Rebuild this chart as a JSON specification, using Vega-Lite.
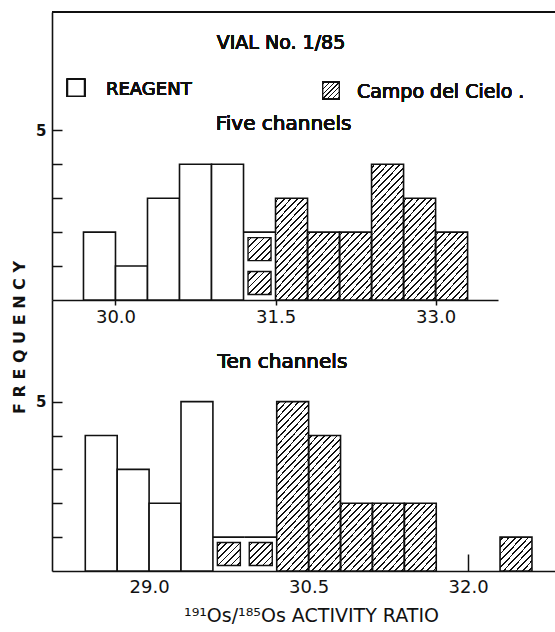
{
  "$schema": "https://vega.github.io/schema/vega-lite/v6.json",
  "autosize": {"type": "pad"},
  "padding": {"left": 10, "top": 11, "right": 0, "bottom": 5},
  "background": "white",
  "bounds": "flush",
  "spacing": 0,
  "datasets": {
    "five_channels": [
      {"bin_start": 29.7, "bin_end": 30.0, "mid": 29.85, "sample": "Reagent", "frequency": 2},
      {"bin_start": 30.0, "bin_end": 30.3, "mid": 30.15, "sample": "Reagent", "frequency": 1},
      {"bin_start": 30.3, "bin_end": 30.6, "mid": 30.45, "sample": "Reagent", "frequency": 3},
      {"bin_start": 30.6, "bin_end": 30.9, "mid": 30.75, "sample": "Reagent", "frequency": 4},
      {"bin_start": 30.9, "bin_end": 31.2, "mid": 31.05, "sample": "Reagent", "frequency": 4},
      {"bin_start": 31.2, "bin_end": 31.5, "mid": 31.35, "sample": "Mixed", "frequency": 2},
      {"bin_start": 31.5, "bin_end": 31.8, "mid": 31.65, "sample": "Campo del Cielo", "frequency": 3},
      {"bin_start": 31.8, "bin_end": 32.1, "mid": 31.95, "sample": "Campo del Cielo", "frequency": 2},
      {"bin_start": 32.1, "bin_end": 32.4, "mid": 32.25, "sample": "Campo del Cielo", "frequency": 2},
      {"bin_start": 32.4, "bin_end": 32.7, "mid": 32.55, "sample": "Campo del Cielo", "frequency": 4},
      {"bin_start": 32.7, "bin_end": 33.0, "mid": 32.85, "sample": "Campo del Cielo", "frequency": 3},
      {"bin_start": 33.0, "bin_end": 33.3, "mid": 33.15, "sample": "Campo del Cielo", "frequency": 2}
    ],
    "ten_channels": [
      {"bin_start": 28.4, "bin_end": 28.7, "mid": 28.55, "sample": "Reagent", "frequency": 4},
      {"bin_start": 28.7, "bin_end": 29.0, "mid": 28.85, "sample": "Reagent", "frequency": 3},
      {"bin_start": 29.0, "bin_end": 29.3, "mid": 29.15, "sample": "Reagent", "frequency": 2},
      {"bin_start": 29.3, "bin_end": 29.6, "mid": 29.45, "sample": "Reagent", "frequency": 5},
      {"bin_start": 29.6, "bin_end": 29.9, "mid": 29.75, "sample": "Mixed", "frequency": 1},
      {"bin_start": 29.9, "bin_end": 30.2, "mid": 30.05, "sample": "Mixed", "frequency": 1},
      {"bin_start": 30.2, "bin_end": 30.5, "mid": 30.35, "sample": "Campo del Cielo", "frequency": 5},
      {"bin_start": 30.5, "bin_end": 30.8, "mid": 30.65, "sample": "Campo del Cielo", "frequency": 4},
      {"bin_start": 30.8, "bin_end": 31.1, "mid": 30.95, "sample": "Campo del Cielo", "frequency": 2},
      {"bin_start": 31.1, "bin_end": 31.4, "mid": 31.25, "sample": "Campo del Cielo", "frequency": 2},
      {"bin_start": 31.4, "bin_end": 31.7, "mid": 31.55, "sample": "Campo del Cielo", "frequency": 2},
      {"bin_start": 32.3, "bin_end": 32.6, "mid": 32.45, "sample": "Campo del Cielo", "frequency": 1}
    ]
  },
  "vconcat": [
    {
      "width": 446,
      "height": 288,
      "data": {"name": "five_channels"},
      "layer": [
        {
          "transform": [{"filter": "datum.sample == 'Reagent'"}],
          "mark": {"type": "bar", "fill": "white", "stroke": "#111", "strokeWidth": 1.6},
          "encoding": {
            "x": {"field": "bin_start", "type": "quantitative", "scale": {"domain": [29.405, 33.585], "nice": false, "zero": false},
                  "axis": {"values": [30, 31.5, 33], "format": ".1f", "tickSize": 5, "labelPadding": 3, "labelFontSize": 18, "title": null}},
            "x2": {"field": "bin_end"},
            "y": {"field": "frequency", "type": "quantitative", "scale": {"domain": [0, 8.486], "nice": false},
                  "axis": {"values": [1, 2, 3, 4, 5], "labelExpr": "datum.value == 5 ? '5' : ''", "tickSize": -10, "labelPadding": 16, "labelFontSize": 15, "labelFontWeight": "bold", "title": null}},
            "y2": {"datum": 0}
          }
        },
        {"transform": [{"filter": "datum.sample == 'Campo del Cielo' && datum.frequency >= 1"}],
         "mark": {"type": "bar", "strokeWidth": 0, "fill": {"gradient": "linear", "x1": 0, "y1": 0, "x2": 1, "y2": 1, "stops": [{"offset": 0, "color": "#fff"}, {"offset": 0.036, "color": "#fff"}, {"offset": 0.036, "color": "#111"}, {"offset": 0.064, "color": "#111"}, {"offset": 0.064, "color": "#fff"}, {"offset": 0.136, "color": "#fff"}, {"offset": 0.136, "color": "#111"}, {"offset": 0.164, "color": "#111"}, {"offset": 0.164, "color": "#fff"}, {"offset": 0.236, "color": "#fff"}, {"offset": 0.236, "color": "#111"}, {"offset": 0.264, "color": "#111"}, {"offset": 0.264, "color": "#fff"}, {"offset": 0.336, "color": "#fff"}, {"offset": 0.336, "color": "#111"}, {"offset": 0.364, "color": "#111"}, {"offset": 0.364, "color": "#fff"}, {"offset": 0.436, "color": "#fff"}, {"offset": 0.436, "color": "#111"}, {"offset": 0.464, "color": "#111"}, {"offset": 0.464, "color": "#fff"}, {"offset": 0.536, "color": "#fff"}, {"offset": 0.536, "color": "#111"}, {"offset": 0.564, "color": "#111"}, {"offset": 0.564, "color": "#fff"}, {"offset": 0.636, "color": "#fff"}, {"offset": 0.636, "color": "#111"}, {"offset": 0.664, "color": "#111"}, {"offset": 0.664, "color": "#fff"}, {"offset": 0.736, "color": "#fff"}, {"offset": 0.736, "color": "#111"}, {"offset": 0.764, "color": "#111"}, {"offset": 0.764, "color": "#fff"}, {"offset": 0.836, "color": "#fff"}, {"offset": 0.836, "color": "#111"}, {"offset": 0.864, "color": "#111"}, {"offset": 0.864, "color": "#fff"}, {"offset": 0.936, "color": "#fff"}, {"offset": 0.936, "color": "#111"}, {"offset": 0.964, "color": "#111"}, {"offset": 0.964, "color": "#fff"}, {"offset": 1, "color": "#fff"}]}},
         "encoding": {"x": {"field": "bin_start", "type": "quantitative"}, "x2": {"field": "bin_end"}, "y": {"datum": 0}, "y2": {"datum": 1}}},
        {"transform": [{"filter": "datum.sample == 'Campo del Cielo' && datum.frequency >= 2"}],
         "mark": {"type": "bar", "strokeWidth": 0, "fill": {"gradient": "linear", "x1": 0, "y1": 0, "x2": 1, "y2": 1, "stops": [{"offset": 0, "color": "#fff"}, {"offset": 0.036, "color": "#fff"}, {"offset": 0.036, "color": "#111"}, {"offset": 0.064, "color": "#111"}, {"offset": 0.064, "color": "#fff"}, {"offset": 0.136, "color": "#fff"}, {"offset": 0.136, "color": "#111"}, {"offset": 0.164, "color": "#111"}, {"offset": 0.164, "color": "#fff"}, {"offset": 0.236, "color": "#fff"}, {"offset": 0.236, "color": "#111"}, {"offset": 0.264, "color": "#111"}, {"offset": 0.264, "color": "#fff"}, {"offset": 0.336, "color": "#fff"}, {"offset": 0.336, "color": "#111"}, {"offset": 0.364, "color": "#111"}, {"offset": 0.364, "color": "#fff"}, {"offset": 0.436, "color": "#fff"}, {"offset": 0.436, "color": "#111"}, {"offset": 0.464, "color": "#111"}, {"offset": 0.464, "color": "#fff"}, {"offset": 0.536, "color": "#fff"}, {"offset": 0.536, "color": "#111"}, {"offset": 0.564, "color": "#111"}, {"offset": 0.564, "color": "#fff"}, {"offset": 0.636, "color": "#fff"}, {"offset": 0.636, "color": "#111"}, {"offset": 0.664, "color": "#111"}, {"offset": 0.664, "color": "#fff"}, {"offset": 0.736, "color": "#fff"}, {"offset": 0.736, "color": "#111"}, {"offset": 0.764, "color": "#111"}, {"offset": 0.764, "color": "#fff"}, {"offset": 0.836, "color": "#fff"}, {"offset": 0.836, "color": "#111"}, {"offset": 0.864, "color": "#111"}, {"offset": 0.864, "color": "#fff"}, {"offset": 0.936, "color": "#fff"}, {"offset": 0.936, "color": "#111"}, {"offset": 0.964, "color": "#111"}, {"offset": 0.964, "color": "#fff"}, {"offset": 1, "color": "#fff"}]}},
         "encoding": {"x": {"field": "bin_start", "type": "quantitative"}, "x2": {"field": "bin_end"}, "y": {"datum": 1}, "y2": {"datum": 2}}},
        {"transform": [{"filter": "datum.sample == 'Campo del Cielo' && datum.frequency >= 3"}],
         "mark": {"type": "bar", "strokeWidth": 0, "fill": {"gradient": "linear", "x1": 0, "y1": 0, "x2": 1, "y2": 1, "stops": [{"offset": 0, "color": "#fff"}, {"offset": 0.036, "color": "#fff"}, {"offset": 0.036, "color": "#111"}, {"offset": 0.064, "color": "#111"}, {"offset": 0.064, "color": "#fff"}, {"offset": 0.136, "color": "#fff"}, {"offset": 0.136, "color": "#111"}, {"offset": 0.164, "color": "#111"}, {"offset": 0.164, "color": "#fff"}, {"offset": 0.236, "color": "#fff"}, {"offset": 0.236, "color": "#111"}, {"offset": 0.264, "color": "#111"}, {"offset": 0.264, "color": "#fff"}, {"offset": 0.336, "color": "#fff"}, {"offset": 0.336, "color": "#111"}, {"offset": 0.364, "color": "#111"}, {"offset": 0.364, "color": "#fff"}, {"offset": 0.436, "color": "#fff"}, {"offset": 0.436, "color": "#111"}, {"offset": 0.464, "color": "#111"}, {"offset": 0.464, "color": "#fff"}, {"offset": 0.536, "color": "#fff"}, {"offset": 0.536, "color": "#111"}, {"offset": 0.564, "color": "#111"}, {"offset": 0.564, "color": "#fff"}, {"offset": 0.636, "color": "#fff"}, {"offset": 0.636, "color": "#111"}, {"offset": 0.664, "color": "#111"}, {"offset": 0.664, "color": "#fff"}, {"offset": 0.736, "color": "#fff"}, {"offset": 0.736, "color": "#111"}, {"offset": 0.764, "color": "#111"}, {"offset": 0.764, "color": "#fff"}, {"offset": 0.836, "color": "#fff"}, {"offset": 0.836, "color": "#111"}, {"offset": 0.864, "color": "#111"}, {"offset": 0.864, "color": "#fff"}, {"offset": 0.936, "color": "#fff"}, {"offset": 0.936, "color": "#111"}, {"offset": 0.964, "color": "#111"}, {"offset": 0.964, "color": "#fff"}, {"offset": 1, "color": "#fff"}]}},
         "encoding": {"x": {"field": "bin_start", "type": "quantitative"}, "x2": {"field": "bin_end"}, "y": {"datum": 2}, "y2": {"datum": 3}}},
        {"transform": [{"filter": "datum.sample == 'Campo del Cielo' && datum.frequency >= 4"}],
         "mark": {"type": "bar", "strokeWidth": 0, "fill": {"gradient": "linear", "x1": 0, "y1": 0, "x2": 1, "y2": 1, "stops": [{"offset": 0, "color": "#fff"}, {"offset": 0.036, "color": "#fff"}, {"offset": 0.036, "color": "#111"}, {"offset": 0.064, "color": "#111"}, {"offset": 0.064, "color": "#fff"}, {"offset": 0.136, "color": "#fff"}, {"offset": 0.136, "color": "#111"}, {"offset": 0.164, "color": "#111"}, {"offset": 0.164, "color": "#fff"}, {"offset": 0.236, "color": "#fff"}, {"offset": 0.236, "color": "#111"}, {"offset": 0.264, "color": "#111"}, {"offset": 0.264, "color": "#fff"}, {"offset": 0.336, "color": "#fff"}, {"offset": 0.336, "color": "#111"}, {"offset": 0.364, "color": "#111"}, {"offset": 0.364, "color": "#fff"}, {"offset": 0.436, "color": "#fff"}, {"offset": 0.436, "color": "#111"}, {"offset": 0.464, "color": "#111"}, {"offset": 0.464, "color": "#fff"}, {"offset": 0.536, "color": "#fff"}, {"offset": 0.536, "color": "#111"}, {"offset": 0.564, "color": "#111"}, {"offset": 0.564, "color": "#fff"}, {"offset": 0.636, "color": "#fff"}, {"offset": 0.636, "color": "#111"}, {"offset": 0.664, "color": "#111"}, {"offset": 0.664, "color": "#fff"}, {"offset": 0.736, "color": "#fff"}, {"offset": 0.736, "color": "#111"}, {"offset": 0.764, "color": "#111"}, {"offset": 0.764, "color": "#fff"}, {"offset": 0.836, "color": "#fff"}, {"offset": 0.836, "color": "#111"}, {"offset": 0.864, "color": "#111"}, {"offset": 0.864, "color": "#fff"}, {"offset": 0.936, "color": "#fff"}, {"offset": 0.936, "color": "#111"}, {"offset": 0.964, "color": "#111"}, {"offset": 0.964, "color": "#fff"}, {"offset": 1, "color": "#fff"}]}},
         "encoding": {"x": {"field": "bin_start", "type": "quantitative"}, "x2": {"field": "bin_end"}, "y": {"datum": 3}, "y2": {"datum": 4}}},
        {"transform": [{"filter": "datum.sample == 'Campo del Cielo'"}], "mark": {"type": "bar", "fill": "transparent", "stroke": "#111", "strokeWidth": 1.6},
         "encoding": {"x": {"field": "bin_start", "type": "quantitative"}, "x2": {"field": "bin_end"}, "y": {"field": "frequency", "type": "quantitative"}, "y2": {"datum": 0}}},
        {"transform": [{"filter": "datum.sample == 'Mixed'"}], "mark": {"type": "rule", "stroke": "#111", "strokeWidth": 1.6},
         "encoding": {"x": {"field": "bin_start", "type": "quantitative"}, "x2": {"field": "bin_end"}, "y": {"field": "frequency", "type": "quantitative"}}},
        {"transform": [{"filter": "datum.sample == 'Mixed' && datum.frequency >= 1"}],
         "mark": {"type": "point", "shape": "square", "size": 529, "filled": true, "opacity": 1, "stroke": "#111", "strokeWidth": 1.4, "fill": {"gradient": "linear", "x1": 0, "y1": 0, "x2": 1, "y2": 1, "stops": [{"offset": 0, "color": "#fff"}, {"offset": 0.052, "color": "#fff"}, {"offset": 0.052, "color": "#111"}, {"offset": 0.09, "color": "#111"}, {"offset": 0.09, "color": "#fff"}, {"offset": 0.195, "color": "#fff"}, {"offset": 0.195, "color": "#111"}, {"offset": 0.233, "color": "#111"}, {"offset": 0.233, "color": "#fff"}, {"offset": 0.338, "color": "#fff"}, {"offset": 0.338, "color": "#111"}, {"offset": 0.376, "color": "#111"}, {"offset": 0.376, "color": "#fff"}, {"offset": 0.481, "color": "#fff"}, {"offset": 0.481, "color": "#111"}, {"offset": 0.519, "color": "#111"}, {"offset": 0.519, "color": "#fff"}, {"offset": 0.624, "color": "#fff"}, {"offset": 0.624, "color": "#111"}, {"offset": 0.662, "color": "#111"}, {"offset": 0.662, "color": "#fff"}, {"offset": 0.767, "color": "#fff"}, {"offset": 0.767, "color": "#111"}, {"offset": 0.805, "color": "#111"}, {"offset": 0.805, "color": "#fff"}, {"offset": 0.91, "color": "#fff"}, {"offset": 0.91, "color": "#111"}, {"offset": 0.948, "color": "#111"}, {"offset": 0.948, "color": "#fff"}, {"offset": 1, "color": "#fff"}]}},
         "encoding": {"x": {"field": "mid", "type": "quantitative"}, "y": {"datum": 0.5}}},
        {"transform": [{"filter": "datum.sample == 'Mixed' && datum.frequency >= 2"}],
         "mark": {"type": "point", "shape": "square", "size": 529, "filled": true, "opacity": 1, "stroke": "#111", "strokeWidth": 1.4, "fill": {"gradient": "linear", "x1": 0, "y1": 0, "x2": 1, "y2": 1, "stops": [{"offset": 0, "color": "#fff"}, {"offset": 0.052, "color": "#fff"}, {"offset": 0.052, "color": "#111"}, {"offset": 0.09, "color": "#111"}, {"offset": 0.09, "color": "#fff"}, {"offset": 0.195, "color": "#fff"}, {"offset": 0.195, "color": "#111"}, {"offset": 0.233, "color": "#111"}, {"offset": 0.233, "color": "#fff"}, {"offset": 0.338, "color": "#fff"}, {"offset": 0.338, "color": "#111"}, {"offset": 0.376, "color": "#111"}, {"offset": 0.376, "color": "#fff"}, {"offset": 0.481, "color": "#fff"}, {"offset": 0.481, "color": "#111"}, {"offset": 0.519, "color": "#111"}, {"offset": 0.519, "color": "#fff"}, {"offset": 0.624, "color": "#fff"}, {"offset": 0.624, "color": "#111"}, {"offset": 0.662, "color": "#111"}, {"offset": 0.662, "color": "#fff"}, {"offset": 0.767, "color": "#fff"}, {"offset": 0.767, "color": "#111"}, {"offset": 0.805, "color": "#111"}, {"offset": 0.805, "color": "#fff"}, {"offset": 0.91, "color": "#fff"}, {"offset": 0.91, "color": "#111"}, {"offset": 0.948, "color": "#111"}, {"offset": 0.948, "color": "#fff"}, {"offset": 1, "color": "#fff"}]}},
         "encoding": {"x": {"field": "mid", "type": "quantitative"}, "y": {"datum": 1.5}}},
        {"mark": {"type": "rule", "stroke": "#111", "strokeWidth": 1.5},
         "encoding": {"x": {"datum": 29.405}, "x2": {"datum": 34.128}, "y": {"datum": 8.486}}},
        {"mark": {"type": "text", "text": "VIAL  No.  1/85", "fontSize": 19, "align": "center", "baseline": "alphabetic"},
         "encoding": {"x": {"datum": 31.551}, "y": {"datum": 7.387}}},
        {"mark": {"type": "point", "shape": "square", "size": 289, "filled": true, "opacity": 1, "fill": "white", "stroke": "#111", "strokeWidth": 1.5},
         "encoding": {"x": {"datum": 29.63}, "y": {"datum": 6.255}}},
        {"mark": {"type": "text", "text": "REAGENT", "fontSize": 18, "align": "left", "baseline": "alphabetic"},
         "encoding": {"x": {"datum": 29.911}, "y": {"datum": 6.031}}},
        {"mark": {"type": "point", "shape": "square", "size": 272, "filled": true, "opacity": 1, "stroke": "#111", "strokeWidth": 1.3, "fill": {"gradient": "linear", "x1": 0, "y1": 0, "x2": 1, "y2": 1, "stops": [{"offset": 0, "color": "#fff"}, {"offset": 0.052, "color": "#fff"}, {"offset": 0.052, "color": "#111"}, {"offset": 0.09, "color": "#111"}, {"offset": 0.09, "color": "#fff"}, {"offset": 0.195, "color": "#fff"}, {"offset": 0.195, "color": "#111"}, {"offset": 0.233, "color": "#111"}, {"offset": 0.233, "color": "#fff"}, {"offset": 0.338, "color": "#fff"}, {"offset": 0.338, "color": "#111"}, {"offset": 0.376, "color": "#111"}, {"offset": 0.376, "color": "#fff"}, {"offset": 0.481, "color": "#fff"}, {"offset": 0.481, "color": "#111"}, {"offset": 0.519, "color": "#111"}, {"offset": 0.519, "color": "#fff"}, {"offset": 0.624, "color": "#fff"}, {"offset": 0.624, "color": "#111"}, {"offset": 0.662, "color": "#111"}, {"offset": 0.662, "color": "#fff"}, {"offset": 0.767, "color": "#fff"}, {"offset": 0.767, "color": "#111"}, {"offset": 0.805, "color": "#111"}, {"offset": 0.805, "color": "#fff"}, {"offset": 0.91, "color": "#fff"}, {"offset": 0.91, "color": "#111"}, {"offset": 0.948, "color": "#111"}, {"offset": 0.948, "color": "#fff"}, {"offset": 1, "color": "#fff"}]}},
         "encoding": {"x": {"datum": 32.02}, "y": {"datum": 6.173}}},
        {"mark": {"type": "text", "text": "Campo del Cielo .", "fontSize": 19, "align": "left", "baseline": "alphabetic"},
         "encoding": {"x": {"datum": 32.263}, "y": {"datum": 5.961}}},
        {"mark": {"type": "text", "text": "Five  channels", "fontSize": 20, "align": "center", "baseline": "alphabetic"},
         "encoding": {"x": {"datum": 31.575}, "y": {"datum": 5.0}}}
      ]
    },
    {
      "width": 504,
      "height": 271,
      "data": {"name": "ten_channels"},
      "layer": [
        {
          "transform": [{"filter": "datum.sample == 'Reagent'"}],
          "mark": {"type": "bar", "fill": "white", "stroke": "#111", "strokeWidth": 1.6},
          "encoding": {
            "x": {"field": "bin_start", "type": "quantitative", "scale": {"domain": [28.087, 32.826], "nice": false, "zero": false},
                  "axis": {"values": [29, 30.5, 32], "format": ".1f", "tickSize": -17, "labelPadding": 24, "labelFontSize": 18,
                           "title": "¹⁹¹Os/¹⁸⁵Os  ACTIVITY  RATIO", "titleFontSize": 19, "titleFontWeight": "normal", "titlePadding": 10, "titleX": 259, "titleAlign": "center"}},
            "x2": {"field": "bin_end"},
            "y": {"field": "frequency", "type": "quantitative", "scale": {"domain": [0, 8], "nice": false},
                  "axis": {"values": [1, 2, 3, 4, 5], "labelExpr": "datum.value == 5 ? '5' : ''", "tickSize": -10, "labelPadding": 16, "labelFontSize": 15, "labelFontWeight": "bold",
                           "title": "F R E Q U E N C Y", "titleFontSize": 16, "titleFontWeight": "bold", "titleAngle": 270, "titleX": -33, "titleY": 37, "titleAlign": "center", "titleBaseline": "middle"}},
            "y2": {"datum": 0}
          }
        },
        {"transform": [{"filter": "datum.sample == 'Campo del Cielo' && datum.frequency >= 1"}],
         "mark": {"type": "bar", "strokeWidth": 0, "fill": {"gradient": "linear", "x1": 0, "y1": 0, "x2": 1, "y2": 1, "stops": [{"offset": 0, "color": "#fff"}, {"offset": 0.036, "color": "#fff"}, {"offset": 0.036, "color": "#111"}, {"offset": 0.064, "color": "#111"}, {"offset": 0.064, "color": "#fff"}, {"offset": 0.136, "color": "#fff"}, {"offset": 0.136, "color": "#111"}, {"offset": 0.164, "color": "#111"}, {"offset": 0.164, "color": "#fff"}, {"offset": 0.236, "color": "#fff"}, {"offset": 0.236, "color": "#111"}, {"offset": 0.264, "color": "#111"}, {"offset": 0.264, "color": "#fff"}, {"offset": 0.336, "color": "#fff"}, {"offset": 0.336, "color": "#111"}, {"offset": 0.364, "color": "#111"}, {"offset": 0.364, "color": "#fff"}, {"offset": 0.436, "color": "#fff"}, {"offset": 0.436, "color": "#111"}, {"offset": 0.464, "color": "#111"}, {"offset": 0.464, "color": "#fff"}, {"offset": 0.536, "color": "#fff"}, {"offset": 0.536, "color": "#111"}, {"offset": 0.564, "color": "#111"}, {"offset": 0.564, "color": "#fff"}, {"offset": 0.636, "color": "#fff"}, {"offset": 0.636, "color": "#111"}, {"offset": 0.664, "color": "#111"}, {"offset": 0.664, "color": "#fff"}, {"offset": 0.736, "color": "#fff"}, {"offset": 0.736, "color": "#111"}, {"offset": 0.764, "color": "#111"}, {"offset": 0.764, "color": "#fff"}, {"offset": 0.836, "color": "#fff"}, {"offset": 0.836, "color": "#111"}, {"offset": 0.864, "color": "#111"}, {"offset": 0.864, "color": "#fff"}, {"offset": 0.936, "color": "#fff"}, {"offset": 0.936, "color": "#111"}, {"offset": 0.964, "color": "#111"}, {"offset": 0.964, "color": "#fff"}, {"offset": 1, "color": "#fff"}]}},
         "encoding": {"x": {"field": "bin_start", "type": "quantitative"}, "x2": {"field": "bin_end"}, "y": {"datum": 0}, "y2": {"datum": 1}}},
        {"transform": [{"filter": "datum.sample == 'Campo del Cielo' && datum.frequency >= 2"}],
         "mark": {"type": "bar", "strokeWidth": 0, "fill": {"gradient": "linear", "x1": 0, "y1": 0, "x2": 1, "y2": 1, "stops": [{"offset": 0, "color": "#fff"}, {"offset": 0.036, "color": "#fff"}, {"offset": 0.036, "color": "#111"}, {"offset": 0.064, "color": "#111"}, {"offset": 0.064, "color": "#fff"}, {"offset": 0.136, "color": "#fff"}, {"offset": 0.136, "color": "#111"}, {"offset": 0.164, "color": "#111"}, {"offset": 0.164, "color": "#fff"}, {"offset": 0.236, "color": "#fff"}, {"offset": 0.236, "color": "#111"}, {"offset": 0.264, "color": "#111"}, {"offset": 0.264, "color": "#fff"}, {"offset": 0.336, "color": "#fff"}, {"offset": 0.336, "color": "#111"}, {"offset": 0.364, "color": "#111"}, {"offset": 0.364, "color": "#fff"}, {"offset": 0.436, "color": "#fff"}, {"offset": 0.436, "color": "#111"}, {"offset": 0.464, "color": "#111"}, {"offset": 0.464, "color": "#fff"}, {"offset": 0.536, "color": "#fff"}, {"offset": 0.536, "color": "#111"}, {"offset": 0.564, "color": "#111"}, {"offset": 0.564, "color": "#fff"}, {"offset": 0.636, "color": "#fff"}, {"offset": 0.636, "color": "#111"}, {"offset": 0.664, "color": "#111"}, {"offset": 0.664, "color": "#fff"}, {"offset": 0.736, "color": "#fff"}, {"offset": 0.736, "color": "#111"}, {"offset": 0.764, "color": "#111"}, {"offset": 0.764, "color": "#fff"}, {"offset": 0.836, "color": "#fff"}, {"offset": 0.836, "color": "#111"}, {"offset": 0.864, "color": "#111"}, {"offset": 0.864, "color": "#fff"}, {"offset": 0.936, "color": "#fff"}, {"offset": 0.936, "color": "#111"}, {"offset": 0.964, "color": "#111"}, {"offset": 0.964, "color": "#fff"}, {"offset": 1, "color": "#fff"}]}},
         "encoding": {"x": {"field": "bin_start", "type": "quantitative"}, "x2": {"field": "bin_end"}, "y": {"datum": 1}, "y2": {"datum": 2}}},
        {"transform": [{"filter": "datum.sample == 'Campo del Cielo' && datum.frequency >= 3"}],
         "mark": {"type": "bar", "strokeWidth": 0, "fill": {"gradient": "linear", "x1": 0, "y1": 0, "x2": 1, "y2": 1, "stops": [{"offset": 0, "color": "#fff"}, {"offset": 0.036, "color": "#fff"}, {"offset": 0.036, "color": "#111"}, {"offset": 0.064, "color": "#111"}, {"offset": 0.064, "color": "#fff"}, {"offset": 0.136, "color": "#fff"}, {"offset": 0.136, "color": "#111"}, {"offset": 0.164, "color": "#111"}, {"offset": 0.164, "color": "#fff"}, {"offset": 0.236, "color": "#fff"}, {"offset": 0.236, "color": "#111"}, {"offset": 0.264, "color": "#111"}, {"offset": 0.264, "color": "#fff"}, {"offset": 0.336, "color": "#fff"}, {"offset": 0.336, "color": "#111"}, {"offset": 0.364, "color": "#111"}, {"offset": 0.364, "color": "#fff"}, {"offset": 0.436, "color": "#fff"}, {"offset": 0.436, "color": "#111"}, {"offset": 0.464, "color": "#111"}, {"offset": 0.464, "color": "#fff"}, {"offset": 0.536, "color": "#fff"}, {"offset": 0.536, "color": "#111"}, {"offset": 0.564, "color": "#111"}, {"offset": 0.564, "color": "#fff"}, {"offset": 0.636, "color": "#fff"}, {"offset": 0.636, "color": "#111"}, {"offset": 0.664, "color": "#111"}, {"offset": 0.664, "color": "#fff"}, {"offset": 0.736, "color": "#fff"}, {"offset": 0.736, "color": "#111"}, {"offset": 0.764, "color": "#111"}, {"offset": 0.764, "color": "#fff"}, {"offset": 0.836, "color": "#fff"}, {"offset": 0.836, "color": "#111"}, {"offset": 0.864, "color": "#111"}, {"offset": 0.864, "color": "#fff"}, {"offset": 0.936, "color": "#fff"}, {"offset": 0.936, "color": "#111"}, {"offset": 0.964, "color": "#111"}, {"offset": 0.964, "color": "#fff"}, {"offset": 1, "color": "#fff"}]}},
         "encoding": {"x": {"field": "bin_start", "type": "quantitative"}, "x2": {"field": "bin_end"}, "y": {"datum": 2}, "y2": {"datum": 3}}},
        {"transform": [{"filter": "datum.sample == 'Campo del Cielo' && datum.frequency >= 4"}],
         "mark": {"type": "bar", "strokeWidth": 0, "fill": {"gradient": "linear", "x1": 0, "y1": 0, "x2": 1, "y2": 1, "stops": [{"offset": 0, "color": "#fff"}, {"offset": 0.036, "color": "#fff"}, {"offset": 0.036, "color": "#111"}, {"offset": 0.064, "color": "#111"}, {"offset": 0.064, "color": "#fff"}, {"offset": 0.136, "color": "#fff"}, {"offset": 0.136, "color": "#111"}, {"offset": 0.164, "color": "#111"}, {"offset": 0.164, "color": "#fff"}, {"offset": 0.236, "color": "#fff"}, {"offset": 0.236, "color": "#111"}, {"offset": 0.264, "color": "#111"}, {"offset": 0.264, "color": "#fff"}, {"offset": 0.336, "color": "#fff"}, {"offset": 0.336, "color": "#111"}, {"offset": 0.364, "color": "#111"}, {"offset": 0.364, "color": "#fff"}, {"offset": 0.436, "color": "#fff"}, {"offset": 0.436, "color": "#111"}, {"offset": 0.464, "color": "#111"}, {"offset": 0.464, "color": "#fff"}, {"offset": 0.536, "color": "#fff"}, {"offset": 0.536, "color": "#111"}, {"offset": 0.564, "color": "#111"}, {"offset": 0.564, "color": "#fff"}, {"offset": 0.636, "color": "#fff"}, {"offset": 0.636, "color": "#111"}, {"offset": 0.664, "color": "#111"}, {"offset": 0.664, "color": "#fff"}, {"offset": 0.736, "color": "#fff"}, {"offset": 0.736, "color": "#111"}, {"offset": 0.764, "color": "#111"}, {"offset": 0.764, "color": "#fff"}, {"offset": 0.836, "color": "#fff"}, {"offset": 0.836, "color": "#111"}, {"offset": 0.864, "color": "#111"}, {"offset": 0.864, "color": "#fff"}, {"offset": 0.936, "color": "#fff"}, {"offset": 0.936, "color": "#111"}, {"offset": 0.964, "color": "#111"}, {"offset": 0.964, "color": "#fff"}, {"offset": 1, "color": "#fff"}]}},
         "encoding": {"x": {"field": "bin_start", "type": "quantitative"}, "x2": {"field": "bin_end"}, "y": {"datum": 3}, "y2": {"datum": 4}}},
        {"transform": [{"filter": "datum.sample == 'Campo del Cielo' && datum.frequency >= 5"}],
         "mark": {"type": "bar", "strokeWidth": 0, "fill": {"gradient": "linear", "x1": 0, "y1": 0, "x2": 1, "y2": 1, "stops": [{"offset": 0, "color": "#fff"}, {"offset": 0.036, "color": "#fff"}, {"offset": 0.036, "color": "#111"}, {"offset": 0.064, "color": "#111"}, {"offset": 0.064, "color": "#fff"}, {"offset": 0.136, "color": "#fff"}, {"offset": 0.136, "color": "#111"}, {"offset": 0.164, "color": "#111"}, {"offset": 0.164, "color": "#fff"}, {"offset": 0.236, "color": "#fff"}, {"offset": 0.236, "color": "#111"}, {"offset": 0.264, "color": "#111"}, {"offset": 0.264, "color": "#fff"}, {"offset": 0.336, "color": "#fff"}, {"offset": 0.336, "color": "#111"}, {"offset": 0.364, "color": "#111"}, {"offset": 0.364, "color": "#fff"}, {"offset": 0.436, "color": "#fff"}, {"offset": 0.436, "color": "#111"}, {"offset": 0.464, "color": "#111"}, {"offset": 0.464, "color": "#fff"}, {"offset": 0.536, "color": "#fff"}, {"offset": 0.536, "color": "#111"}, {"offset": 0.564, "color": "#111"}, {"offset": 0.564, "color": "#fff"}, {"offset": 0.636, "color": "#fff"}, {"offset": 0.636, "color": "#111"}, {"offset": 0.664, "color": "#111"}, {"offset": 0.664, "color": "#fff"}, {"offset": 0.736, "color": "#fff"}, {"offset": 0.736, "color": "#111"}, {"offset": 0.764, "color": "#111"}, {"offset": 0.764, "color": "#fff"}, {"offset": 0.836, "color": "#fff"}, {"offset": 0.836, "color": "#111"}, {"offset": 0.864, "color": "#111"}, {"offset": 0.864, "color": "#fff"}, {"offset": 0.936, "color": "#fff"}, {"offset": 0.936, "color": "#111"}, {"offset": 0.964, "color": "#111"}, {"offset": 0.964, "color": "#fff"}, {"offset": 1, "color": "#fff"}]}},
         "encoding": {"x": {"field": "bin_start", "type": "quantitative"}, "x2": {"field": "bin_end"}, "y": {"datum": 4}, "y2": {"datum": 5}}},
        {"transform": [{"filter": "datum.sample == 'Campo del Cielo'"}], "mark": {"type": "bar", "fill": "transparent", "stroke": "#111", "strokeWidth": 1.6},
         "encoding": {"x": {"field": "bin_start", "type": "quantitative"}, "x2": {"field": "bin_end"}, "y": {"field": "frequency", "type": "quantitative"}, "y2": {"datum": 0}}},
        {"transform": [{"filter": "datum.sample == 'Mixed'"}], "mark": {"type": "rule", "stroke": "#111", "strokeWidth": 1.6},
         "encoding": {"x": {"field": "bin_start", "type": "quantitative"}, "x2": {"field": "bin_end"}, "y": {"field": "frequency", "type": "quantitative"}}},
        {"transform": [{"filter": "datum.sample == 'Mixed' && datum.frequency >= 1"}],
         "mark": {"type": "point", "shape": "square", "size": 529, "filled": true, "opacity": 1, "stroke": "#111", "strokeWidth": 1.4, "fill": {"gradient": "linear", "x1": 0, "y1": 0, "x2": 1, "y2": 1, "stops": [{"offset": 0, "color": "#fff"}, {"offset": 0.052, "color": "#fff"}, {"offset": 0.052, "color": "#111"}, {"offset": 0.09, "color": "#111"}, {"offset": 0.09, "color": "#fff"}, {"offset": 0.195, "color": "#fff"}, {"offset": 0.195, "color": "#111"}, {"offset": 0.233, "color": "#111"}, {"offset": 0.233, "color": "#fff"}, {"offset": 0.338, "color": "#fff"}, {"offset": 0.338, "color": "#111"}, {"offset": 0.376, "color": "#111"}, {"offset": 0.376, "color": "#fff"}, {"offset": 0.481, "color": "#fff"}, {"offset": 0.481, "color": "#111"}, {"offset": 0.519, "color": "#111"}, {"offset": 0.519, "color": "#fff"}, {"offset": 0.624, "color": "#fff"}, {"offset": 0.624, "color": "#111"}, {"offset": 0.662, "color": "#111"}, {"offset": 0.662, "color": "#fff"}, {"offset": 0.767, "color": "#fff"}, {"offset": 0.767, "color": "#111"}, {"offset": 0.805, "color": "#111"}, {"offset": 0.805, "color": "#fff"}, {"offset": 0.91, "color": "#fff"}, {"offset": 0.91, "color": "#111"}, {"offset": 0.948, "color": "#111"}, {"offset": 0.948, "color": "#fff"}, {"offset": 1, "color": "#fff"}]}},
         "encoding": {"x": {"field": "mid", "type": "quantitative"}, "y": {"datum": 0.5}}},
        {"mark": {"type": "text", "text": "Ten  channels", "fontSize": 20, "align": "center", "baseline": "alphabetic"},
         "encoding": {"x": {"datum": 30.254}, "y": {"datum": 6.001}}}
      ]
    }
  ],
  "config": {
    "view": {"stroke": null},
    "axis": {"labelFont": "DejaVu Sans", "titleFont": "DejaVu Sans", "labelColor": "#111", "titleColor": "#111", "domainColor": "#111", "tickColor": "#111", "domainWidth": 1.6, "tickWidth": 1.5, "grid": false, "labelFontWeight": "normal"},
    "text": {"font": "DejaVu Sans", "color": "#111"}
  }
}
